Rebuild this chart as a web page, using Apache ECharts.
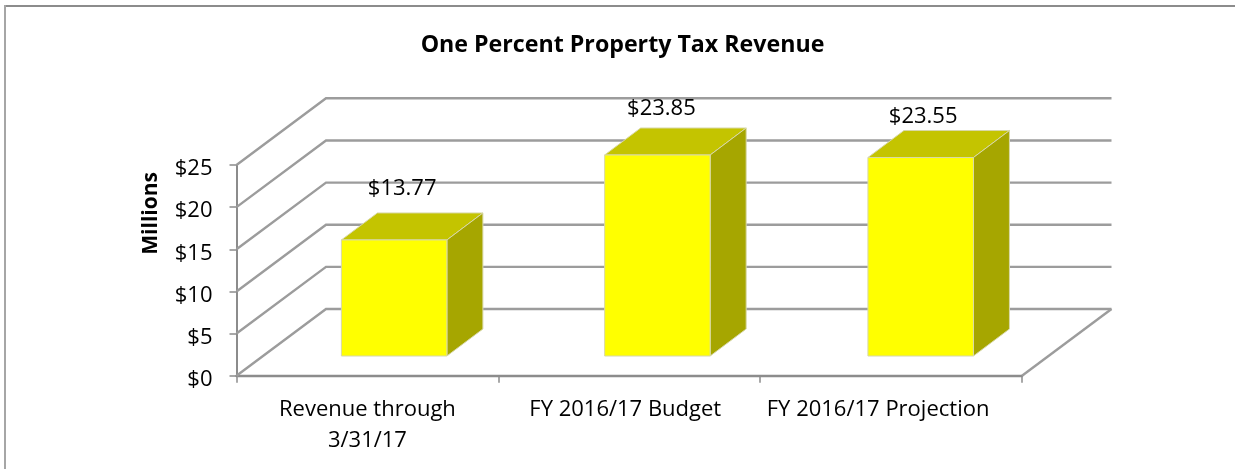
<!DOCTYPE html>
<html>
<head>
<meta charset="utf-8">
<style>
  html, body { margin: 0; padding: 0; background: #fff; }
  #main { width: 1235px; height: 469px; }
</style>
<script src="https://cdn.jsdelivr.net/npm/echarts@6/dist/echarts.min.js"></script>
</head>
<body>
<div id="main"></div>
<script>
const categories = ['Revenue through\n3/31/17', 'FY 2016/17 Budget', 'FY 2016/17 Projection']
const revenue = [13.77, 23.85, 23.55]
const valueTicks = [0, 5, 10, 15, 20, 25]

// data labels don't sit the same way on each bar in the original
const labelShift = [8, 4, 2.5]
const labelLift = [51, 46, 41]

const fontName = 'Open Sans'
const wallDx = 89.5
const wallDy = 66.7
const barSpread = 1.0055
const barInsetDx = 26
const barInsetDy = 19.7
const barDepthDx = 36
const barDepthDy = 27
const barShare = 0.403
const lineGray = '#9c9c9c'
const axisGray = '#8c8c8c'
const barEdge = '#d8d8a8'

const chart = echarts.init(document.getElementById('main'))

// the walls: every gridline runs back from the y axis and then along the back
function renderWall (params, api) {
  const box = params.coordSys
  const y = api.coord([0, api.value(0)])[1]
  const left = box.x
  const right = box.x + box.width
  const children = [{
    type: 'polyline',
    shape: { points: [[left, y], [left + wallDx, y - wallDy], [right + wallDx, y - wallDy]] },
    style: { stroke: lineGray, lineWidth: 2.4, fill: null }
  }]
  if (api.value(0) === 0) {
    children.push({
      type: 'line',
      shape: { x1: right, y1: y, x2: right + wallDx, y2: y - wallDy },
      style: { stroke: lineGray, lineWidth: 2.4 }
    })
  }
  return { type: 'group', children }
}

function renderBar (params, api) {
  const box = params.coordSys
  const top = api.coord([api.value(0), api.value(1)])
  const bottom = api.coord([api.value(0), 0])
  const width = api.size([1, 0])[0] * barShare
  const center = box.x + (top[0] - box.x) * barSpread + barInsetDx
  const x1 = center - width / 2
  const x2 = x1 + width
  const y1 = top[1] - barInsetDy
  const y2 = bottom[1] - barInsetDy
  const edge = { stroke: barEdge, lineWidth: 1 }
  return {
    type: 'group',
    children: [
      {
        type: 'polygon',
        shape: { points: [[x1, y1], [x1 + barDepthDx, y1 - barDepthDy], [x2 + barDepthDx, y1 - barDepthDy], [x2, y1]] },
        style: { fill: '#c4c400', ...edge }
      },
      {
        type: 'polygon',
        shape: { points: [[x2, y1], [x2 + barDepthDx, y1 - barDepthDy], [x2 + barDepthDx, y2 - barDepthDy], [x2, y2]] },
        style: { fill: '#a6a600', ...edge }
      },
      {
        type: 'rect',
        shape: { x: x1, y: y1, width: width, height: y2 - y1 },
        style: { fill: '#ffff00', ...edge }
      },
      {
        type: 'text',
        style: {
          x: center + labelShift[params.dataIndex],
          y: y1 - labelLift[params.dataIndex],
          text: '$' + api.value(1).toFixed(2),
          font: '22px "' + fontName + '"',
          fill: '#000',
          align: 'center',
          verticalAlign: 'middle'
        }
      }
    ]
  }
}

const tickFont = { fontFamily: fontName, fontSize: 22, color: '#000', lineHeight: 31 }

chart.setOption({
  backgroundColor: '#fff',
  animation: false,
  title: {
    text: 'One Percent Property Tax Revenue',
    left: 617.5,
    top: 29,
    textAlign: 'center',
    textStyle: { fontFamily: fontName, fontSize: 23.2, fontWeight: 'bold', color: '#000' }
  },
  graphic: [
    { type: 'line', silent: true, shape: { x1: 4, y1: 6, x2: 1235, y2: 6 }, style: { stroke: axisGray, lineWidth: 2 } },
    { type: 'line', silent: true, shape: { x1: 5, y1: 5, x2: 5, y2: 469 }, style: { stroke: '#a6a6a6', lineWidth: 2 } }
  ],
  grid: { left: 236.5, top: 165, width: 785.5, height: 210.7 },
  xAxis: {
    type: 'category',
    data: categories,
    axisLine: { lineStyle: { color: axisGray, width: 2.4 } },
    axisTick: { show: true, length: 7, lineStyle: { color: axisGray, width: 1.5 } },
    axisLabel: {
      interval: 0,
      margin: 19,
      ...tickFont,
      // the two FY labels sit left of their band centres in the original
      formatter: (value, index) => index ? `{n${index}|${value}}` : value,
      rich: {
        n1: { ...tickFont, padding: [0, 8, 0, 0] },
        n2: { ...tickFont, padding: [0, 26, 0, 0] }
      }
    },
    splitLine: { show: false }
  },
  yAxis: {
    type: 'value',
    min: 0,
    max: 25,
    interval: 5,
    name: 'Millions',
    nameLocation: 'middle',
    nameGap: 75,
    nameRotate: 90,
    nameTextStyle: { fontFamily: fontName, fontSize: 21, fontWeight: 'bold', color: '#000', padding: [0, 0, 0, 114] },
    axisLine: { show: true, lineStyle: { color: axisGray, width: 2 } },
    axisTick: { show: true, length: 7, lineStyle: { color: axisGray, width: 1.5 } },
    axisLabel: {
      margin: 24,
      formatter: v => '{v|$' + v + '}',
      rich: { v: { fontFamily: fontName, fontSize: 22, color: '#000', padding: [8, 0, 0, 0] } }
    },
    splitLine: { show: false }
  },
  series: [
    { type: 'custom', name: 'walls', renderItem: renderWall, data: valueTicks.map(v => [v]), encode: { y: 0 }, z: 1, silent: true },
    { type: 'custom', name: 'Revenue', renderItem: renderBar, data: revenue.map((v, i) => [i, v]), encode: { x: 0, y: 1 }, z: 2 }
  ]
})
</script>
</body>
</html>
